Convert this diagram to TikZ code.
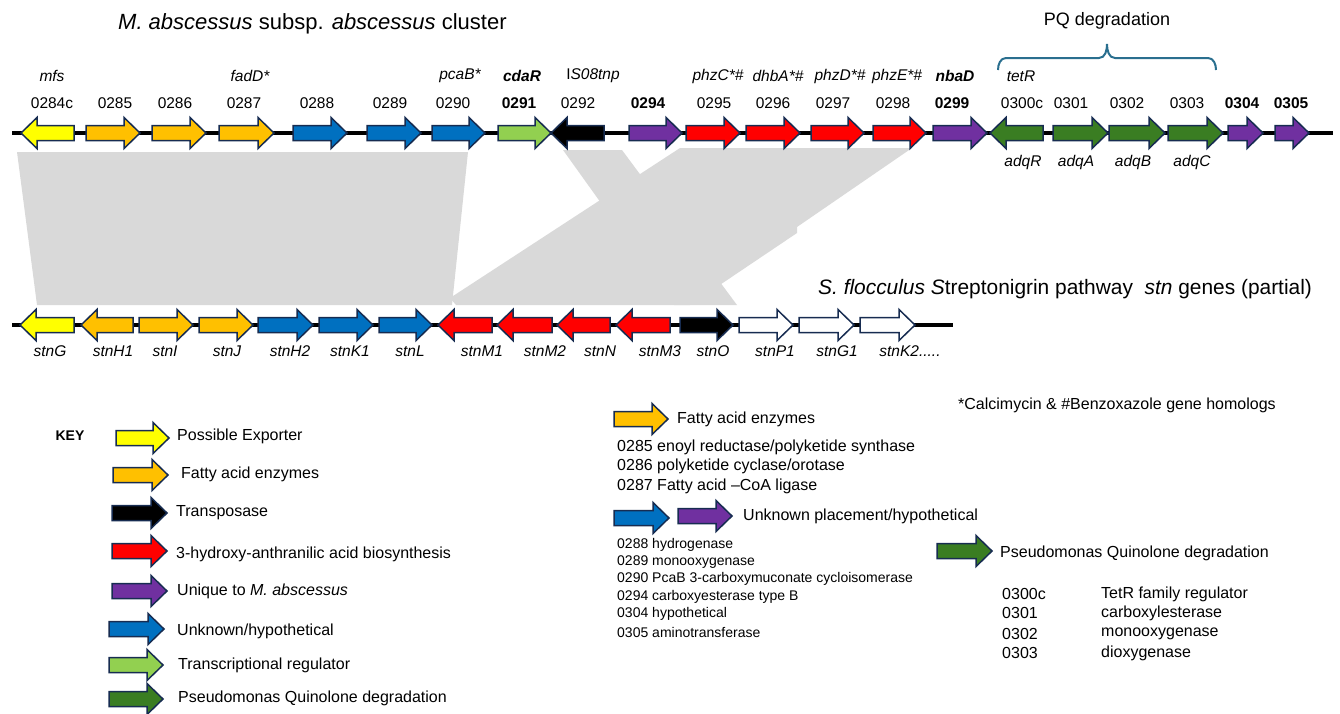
\documentclass[tikz,border=0pt]{standalone}
\usepackage{fontspec}
\setmainfont{Liberation Sans}
\usetikzlibrary{positioning}
\definecolor{genyel}{HTML}{FFFF00}
\definecolor{genorg}{HTML}{FFC000}
\definecolor{genblu}{HTML}{0070C0}
\definecolor{genlgr}{HTML}{92D050}
\definecolor{gendgr}{HTML}{3A7D22}
\definecolor{genpur}{HTML}{7030A0}
\definecolor{genred}{HTML}{FF0000}
\definecolor{genblk}{HTML}{000000}
\definecolor{genwht}{HTML}{FFFFFF}
\definecolor{geneline}{HTML}{172C51}
\definecolor{homgrey}{HTML}{D9D9D9}
\definecolor{bracecol}{HTML}{2A6F8F}
\tikzset{every node/.append style={inner sep=0pt}}
\tikzset{gene/.style={draw=geneline, line width=1.5pt, line join=miter}}
\tikzset{num/.style={font=\fontsize{15.5}{18}\selectfont}}
\tikzset{numb/.style={font=\fontsize{15.5}{18}\selectfont\bfseries}}
\tikzset{nm/.style={font=\fontsize{15.5}{18}\selectfont\itshape}}
\tikzset{keytxt/.style={anchor=west, font=\fontsize{16}{19}\selectfont}}
\tikzset{smalltxt/.style={anchor=west, font=\fontsize{14}{16}\selectfont}}
\tikzset{bigtxt/.style={anchor=west, font=\fontsize{22}{26}\selectfont}}
% tail x, tip x, y, fill
\newcommand{\gene}[4]{%
  \pgfmathsetmacro{\hb}{ifthenelse(#2>#1,#2-16,#2+16)}%
  \filldraw[gene, fill=#4] (#1,{#3-7.5}) -- (\hb,{#3-7.5}) -- (\hb,{#3-15.5})
    -- (#2,#3) -- (\hb,{#3+15.5}) -- (\hb,{#3+7.5}) -- (#1,{#3+7.5}) -- cycle;}

\begin{document}
\begin{tikzpicture}[x=1pt, y=-1pt]
  \useasboundingbox (0,0) rectangle (1340,713);
% homology shading
  \fill[homgrey] (17,152) -- (468,152) -- (452,305) -- (37,305) -- cycle;
  \fill[homgrey] (563,150) -- (622,150) -- (737,305) -- (674,305) -- cycle;
  \fill[homgrey] (680,148) -- (912,148) -- (797,227) -- (797,233)
    -- (690,305) -- (456,305) -- (450,298) -- cycle;
% M. abscessus cluster
  \node[bigtxt] (title) at (118,24) {\textit{M. abscessus} subsp. \textit{abscessus} cluster};
  \draw[line width=4pt] (12,133) -- (1333,133);
  \foreach \a/\b/\c in {74/21/genyel, 86/140/genorg, 152/206/genorg, 219/274/genorg,
      293/347/genblu, 367/421/genblu, 432/485/genblu, 498/551/genlgr, 604/551/genblk,
      629/682/genpur, 686/740/genred, 746/800/genred, 811/864/genred, 873/926/genred,
      933/987/genpur, 1043/990/gendgr, 1053/1108/gendgr, 1109/1165/gendgr,
      1168/1223/gendgr, 1228/1263/genpur, 1275/1309/genpur}
    \gene{\a}{\b}{133}{\c};
  \foreach \x/\t in {52/0284c, 115/0285, 175/0286, 244/0287, 317/0288, 390/0289,
      453/0290, 578/0292, 714/0295, 773/0296, 833/0297, 893/0298, 1022/0300c,
      1071/0301, 1127/0302, 1187/0303}
    \node[num] (g\t) at (\x,103) {\t};
  \foreach \x/\t in {519/0291, 648/0294, 952/0299, 1242/0304, 1291/0305}
    \node[numb] (g\t) at (\x,103) {\t};
  \foreach \x/\t [count=\i] in {52/mfs, 250/fadD*, 460/pcaB*, 522/\textbf{cdaR},
      593/\upshape I\itshape S08tnp, 718/phzC*\#, 778/dhbA*\#, 840/phzD*\#,
      897/phzE*\#, 955/\textbf{nbaD}, 1021/tetR}
    \node[nm] (nm\i) at (\x,76) {\t};
  \foreach \x/\t in {1023/adqR, 1076/adqA, 1133/adqB, 1192/adqC}
    \node[nm] (l\t) at (\x,162) {\t};
% PQ brace
  \draw[bracecol, line width=2pt] (998,70) to[out=90,in=180] (1006,58) -- (1099,58)
    to[out=0,in=-90] (1107,44) to[out=-90,in=180] (1115,58) -- (1208,58)
    to[out=0,in=90] (1216,70);
  \node[font=\fontsize{18}{22}\selectfont] (pq) at (1107,21) {PQ degradation};
% S. flocculus stn genes
  \node[bigtxt, font=\fontsize{20.9}{25}\selectfont] (sfl) at (818,289)
    {\textit{S. flocculus S}treptonigrin pathway\ \ \textit{stn} genes (partial)};
  \draw[line width=4pt] (12,325) -- (953,325);
  \foreach \a/\b/\c in {74/20/genyel, 133/81/genorg, 139/193/genorg, 199/253/genorg,
      258/313/genblu, 319/373/genblu, 379/432/genblu, 492/438/genred,
      552/497/genred, 610/557/genred, 670/616/genred, 680/733/genblk,
      739/793/genwht, 799/854/genwht, 860/915/genwht}
    \gene{\a}{\b}{325}{\c};
  \foreach \x/\t in {50/stnG, 113/stnH1, 165/stnI, 227/stnJ, 290/stnH2, 350/stnK1,
      410/stnL, 482/stnM1, 545/stnM2, 600/stnN, 660/stnM3, 713/stnO, 775/stnP1,
      837/stnG1}
    \node[nm] (s\t) at (\x,351) {\t};
  \node[nm] (sstnK2) at (910,351) {stnK2.....};
% key
  \node[font=\fontsize{14}{16}\selectfont\bfseries] (key) at (70,436) {KEY};
  \gene{116}{169}{438}{genyel}
  \gene{113}{168}{475}{genorg}
  \gene{112}{167}{513}{genblk}
  \gene{112}{167}{551}{genred}
  \gene{112}{167}{591}{genpur}
  \gene{109}{164}{629}{genblu}
  \gene{109}{163}{665}{genlgr}
  \gene{109}{163}{699}{gendgr}
  \node[keytxt] (kexp) at (177,436) {Possible Exporter};
  \node[keytxt] (kfat) at (181,474) {Fatty acid enzymes};
  \node[keytxt] (ktra) at (176,513) {Transposase};
  \node[keytxt] (khaa) at (176,554) {3-hydroxy-anthranilic acid biosynthesis};
  \node[keytxt] (kuni) at (177,591) {Unique to \textit{M. abscessus}};
  \node[keytxt] (kunk) at (177,631) {Unknown/hypothetical};
  \node[keytxt] (ktrn) at (178,665) {Transcriptional regulator};
  \node[keytxt] (kpqs) at (178,698) {Pseudomonas Quinolone degradation};
% key, middle
  \gene{614}{668}{419}{genorg}
  \node[keytxt] (mfat) at (677,419) {Fatty acid enzymes};
  \node[keytxt] (m0285) at (617,447) {0285 enoyl reductase/polyketide synthase};
  \node[keytxt] (m0286) at (617,466) {0286 polyketide cyclase/orotase};
  \node[keytxt] (m0287) at (617,486) {0287 Fatty acid --CoA ligase};
  \gene{614}{669}{518}{genblu}
  \gene{678}{732}{516}{genpur}
  \node[keytxt] (munk) at (743,516) {Unknown placement/hypothetical};
  \foreach \y/\t [count=\i] in {545/0288 hydrogenase, 562/0289 monooxygenase,
      579/0290 PcaB 3-carboxymuconate cycloisomerase, 597/0294 carboxyesterase type B,
      614/0304 hypothetical, 632/0305 aminotransferase}
    \node[smalltxt] (ms\i) at (617,\y) {\t};
% key, right
  \node[keytxt] (homol) at (958,405) {*Calcimycin \& \#Benzoxazole gene homologs};
  \gene{937}{992}{551}{gendgr}
  \node[keytxt] (rpqs) at (1000,553) {Pseudomonas Quinolone degradation};
  \foreach \y/\n/\t [count=\i] in {594/0300c/TetR family regulator,
      613/0301/carboxylesterase, 634/0302/monooxygenase, 653/0303/dioxygenase}
  {
    \node[keytxt] (rn\i) at (1002,\y) {\n};
    \node[keytxt] (rt\i) at (1101,\y) {\t};
  }
\end{tikzpicture}
\end{document}
